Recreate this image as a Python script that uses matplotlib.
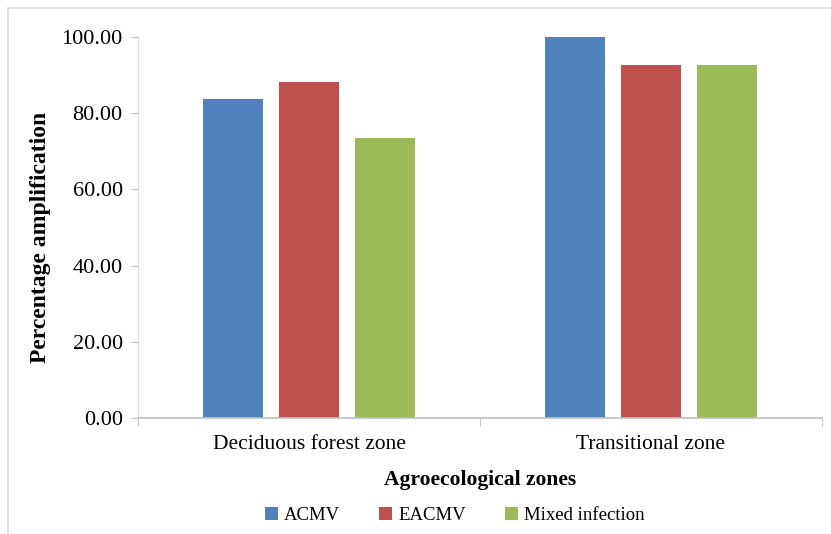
import matplotlib.pyplot as plt
import numpy as np
from matplotlib.patches import Rectangle

zones = ["Deciduous forest zone", "Transitional zone"]
series = ["ACMV", "EACMV", "Mixed infection"]
acmv = [83.7, 100.0]
eacmv = [88.2, 92.6]
mixed = [73.5, 92.6]
colors = ["#4F81BD", "#C0504D", "#9BBB59"]

plt.rcParams["font.family"] = ["Liberation Serif", "DejaVu Serif"]

W, H = 831, 534
fig = plt.figure(figsize=(W / 100, H / 100), dpi=100)
ax = fig.add_axes([138 / W, (H - 418) / H, (822 - 138) / W, (418 - 37) / H])

# outer chart frame (only top/left visible in the reference)
fig.patches.append(Rectangle((8 / W, -0.1), 1.2, (H - 8) / H + 0.1,
                             transform=fig.transFigure, fill=False,
                             edgecolor="#D9D9D9", linewidth=1.2))

x = np.arange(len(zones))
width = 0.175
step = 0.222
for i, (name, vals) in enumerate(zip(series, [acmv, eacmv, mixed])):
    ax.bar(x + (i - 1) * step, vals, width, color=colors[i], label=name)

ax.set_xlim(-0.5, 1.5)
ax.set_ylim(0, 100)
ax.set_yticks(np.arange(0, 101, 20))
ax.set_yticklabels([f"{v:.2f}" for v in np.arange(0, 101, 20)])
ax.set_xticks(x)
ax.set_xticklabels(zones)
ax.set_xticks([-0.5, 0.5, 1.5], minor=True)
ax.tick_params(axis="x", which="major", length=0, labelsize=15.5, pad=12)
ax.tick_params(axis="x", which="minor", length=6, color="#BFBFBF")
ax.tick_params(axis="y", length=5, color="#BFBFBF", labelsize=16, pad=6)

for s in ["top", "right"]:
    ax.spines[s].set_visible(False)
ax.spines["left"].set_color("#D9D9D9")
ax.spines["bottom"].set_color("#BFBFBF")
ax.spines["bottom"].set_linewidth(1.2)

ax.set_xlabel("Agroecological zones", fontsize=15.5, fontweight="bold", labelpad=12)
ax.set_ylabel("Percentage amplification", fontsize=17, fontweight="bold",
              va="center")
ax.yaxis.set_label_coords(-0.143, 0.475)

ax.legend(loc="upper center", bbox_to_anchor=(0.463, -0.19), ncol=3, frameon=False,
          fontsize=13.5, handlelength=0.7, handleheight=0.7, handletextpad=0.3,
          columnspacing=2.1)

fig.savefig("out.png", dpi=100)
